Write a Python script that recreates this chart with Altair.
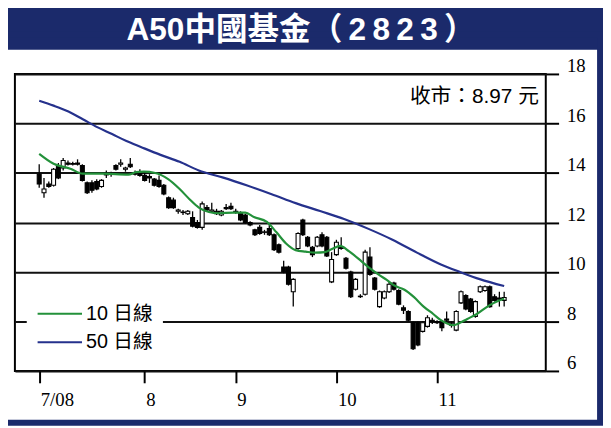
import altair as alt
import pandas as pd

# ---------------- data ----------------
days = list(range(98))  # trading-day index, 7/2008 .. 11/2008
opens = [13.95, 13.20, 13.55, 13.50, 14.30, 14.20, 14.40, 14.35, 14.40, 14.30,
         13.60, 13.60, 13.65, 13.45, 13.95, 13.95, 14.30, 14.35, 14.15, 14.35,
         14.00, 14.05, 13.90, 13.85, 13.75, 13.70, 13.50, 13.00, 12.90, 12.45,
         12.40, 12.35, 12.20, 12.00, 11.80, 12.60, 12.45, 12.45, 12.30, 12.55,
         12.65, 12.45, 12.40, 12.30, 12.00, 11.70, 11.80, 11.60, 11.75, 11.50,
         11.10, 10.20, 10.20, 9.20, 10.95, 12.10, 11.40, 11.00, 11.05, 11.50,
         11.40, 9.60, 10.70, 11.00, 10.55, 10.00, 9.30, 9.00, 9.10, 10.60,
         9.75, 8.60, 8.95, 9.20, 9.55, 9.25, 8.55, 8.40, 7.95, 7.95,
         7.60, 7.80, 8.05, 8.00, 7.95, 8.10, 7.90, 7.65, 8.75, 9.05,
         8.90, 8.20, 9.20, 9.25, 9.40, 9.00, 8.95, 8.85]
highs = [14.35, 13.80, 13.65, 14.20, 14.40, 14.60, 14.50, 14.45, 14.55, 14.35,
         13.65, 13.70, 13.75, 13.75, 14.10, 14.05, 14.35, 14.55, 14.25, 14.60,
         14.10, 14.15, 14.00, 13.95, 13.80, 13.90, 13.55, 13.05, 13.00, 12.55,
         12.50, 12.50, 12.45, 12.10, 12.85, 12.70, 12.80, 12.55, 12.50, 12.75,
         12.80, 12.55, 12.45, 12.35, 12.05, 11.75, 11.90, 11.70, 11.95, 11.55,
         11.15, 10.45, 10.25, 9.75, 11.60, 12.15, 11.45, 11.05, 11.45, 11.60,
         11.45, 10.80, 11.30, 11.40, 10.60, 10.05, 9.75, 9.10, 10.90, 11.00,
         9.80, 9.25, 9.25, 9.60, 9.60, 9.30, 8.65, 8.45, 8.00, 8.00,
         8.00, 8.25, 8.15, 8.05, 8.00, 8.40, 8.00, 8.45, 9.25, 9.10,
         8.95, 8.85, 9.45, 9.45, 9.45, 9.10, 9.20, 9.20]
lows = [13.40, 13.00, 13.40, 13.45, 13.75, 14.10, 14.30, 14.30, 14.30, 13.65,
        13.15, 13.20, 13.30, 13.40, 13.80, 13.85, 14.10, 14.25, 14.05, 14.20,
        13.90, 13.85, 13.65, 13.60, 13.45, 13.40, 13.10, 12.55, 12.55, 12.35,
        12.30, 12.30, 11.80, 11.75, 11.70, 12.45, 12.40, 12.30, 12.25, 12.50,
        12.50, 12.35, 12.05, 11.95, 11.85, 11.45, 11.50, 11.50, 11.45, 10.85,
        10.75, 9.95, 9.45, 8.60, 10.90, 11.45, 11.00, 10.60, 11.00, 11.00,
        10.60, 9.55, 10.65, 10.90, 10.10, 8.95, 9.25, 8.95, 9.05, 9.85,
        9.25, 8.55, 8.90, 9.15, 9.25, 8.65, 8.30, 8.00, 6.85, 7.00,
        7.55, 7.75, 7.90, 7.90, 7.60, 8.00, 7.75, 7.60, 8.70, 8.45,
        8.35, 8.15, 9.15, 9.20, 8.55, 8.80, 8.60, 8.60]
closes = [13.55, 13.35, 13.45, 14.15, 13.80, 14.50, 14.35, 14.38, 14.35, 13.70,
          13.20, 13.30, 13.35, 13.70, 13.92, 13.98, 14.15, 14.40, 14.20, 14.25,
          13.95, 13.90, 13.70, 13.80, 13.50, 13.45, 13.15, 12.60, 12.60, 12.50,
          12.42, 12.45, 11.85, 11.80, 12.75, 12.50, 12.50, 12.35, 12.45, 12.60,
          12.55, 12.40, 12.10, 12.00, 11.90, 11.50, 11.55, 11.62, 11.50, 10.90,
          10.80, 10.00, 9.50, 9.70, 11.55, 11.50, 11.05, 10.70, 11.40, 11.05,
          10.65, 10.50, 11.20, 10.95, 10.15, 9.00, 9.70, 9.02, 10.80, 9.90,
          9.30, 9.20, 9.20, 9.50, 9.30, 8.70, 8.45, 8.05, 6.90, 7.05,
          7.95, 8.15, 8.00, 7.95, 7.75, 8.05, 7.85, 8.40, 9.20, 8.50,
          8.40, 8.80, 9.40, 9.40, 8.60, 8.85, 8.90, 8.97]

ma10_days = [0, 3.0, 6.5, 9.1, 13.1, 18.6, 20.2, 21.8, 24.2, 26.9, 29.3, 31.3,
             33.3, 35.4, 37.4, 40.4, 43.0, 44.8, 47.5, 49.5, 51.5, 53.5, 55.6,
             57.6, 59.6, 61.2, 62.8, 64.6, 67.3, 69.3, 70.9, 72.5, 74.1, 76.2,
             78.2, 80.2, 82.2, 83.8, 86.3, 87.5, 89.3, 91.3, 93.9, 95.6, 97.0]
ma10_vals = [14.77, 14.37, 14.17, 13.97, 13.97, 13.93, 14.03, 14.05, 14.00,
             13.75, 13.35, 12.95, 12.60, 12.42, 12.37, 12.40, 12.40, 12.22,
             12.02, 11.60, 11.15, 10.88, 10.82, 10.78, 10.80, 10.94, 11.05,
             10.84, 10.42, 10.10, 9.88, 9.68, 9.45, 9.28, 8.98, 8.60, 8.30,
             8.05, 7.85, 7.92, 8.10, 8.30, 8.65, 8.82, 8.92]
ma50_days = [0, 3.0, 6.1, 9.1, 12.1, 15.2, 18.2, 21.2, 25.3, 29.3, 33.3, 38.4,
             43.4, 48.5, 53.5, 58.6, 63.6, 68.7, 73.7, 78.8, 83.8, 87.9, 91.9, 97.0]
ma50_vals = [16.92, 16.72, 16.48, 16.17, 15.85, 15.57, 15.29, 15.05, 14.73,
             14.45, 14.10, 13.81, 13.49, 13.14, 12.78, 12.46, 12.14, 11.74,
             11.30, 10.78, 10.30, 9.99, 9.71, 9.43]

tick_days = [0, 22, 41, 62, 83]
tick_labels = ["7/08", "8", "9", "10", "11"]
y_ticks = [6, 8, 10, 12, 14, 16, 18]

title_text = "A50中國基金（\u20092\u20098\u20092\u20093\u2009）"
close_note = "收市：8.97 元"
series_names = ["10 日線", "50 日線"]
series_colors = ["#23913a", "#25318c"]
NAVY = "#1b2a6b"
SERIF = "Times New Roman, Liberation Serif, serif"
SANS = "Arial, Liberation Sans, Noto Sans CJK TC"
TITLE_FONT = "Liberation Sans, Noto Sans CJK TC"

# ---------------- tables ----------------
candles = pd.DataFrame({"day": days, "open": opens, "high": highs,
                        "low": lows, "close": closes})
ma = pd.DataFrame({
    "day": ma10_days + ma50_days,
    "price": ma10_vals + ma50_vals,
    "series": [series_names[0]] * len(ma10_days) + [series_names[1]] * len(ma50_days),
})

label_expr = " : ".join(f"datum.value == {d} ? '{l}'" for d, l in zip(tick_days, tick_labels)) + " : ''"

xs = alt.Scale(domain=[-4.04, 104.65], nice=False, zero=False)
ys = alt.Scale(domain=[6, 18], nice=False, zero=False)

xax = alt.Axis(values=tick_days, labelExpr=label_expr, title=None, tickSize=12,
               tickWidth=2, tickColor="black", domain=False, grid=False,
               labelAlign="left", labelBaseline="top", labelPadding=8,
               labelOffset=1, labelFlush=False, labelFont=SERIF,
               labelFontSize=19, labelColor="black")
yax = alt.Axis(orient="right", values=y_ticks, title=None, tickSize=13,
               tickWidth=2, tickColor="black", domain=False, grid=True,
               gridColor="#111111", gridWidth=2, labelBaseline="alphabetic",
               labelOffset=-2, labelPadding=8, labelFlush=False,
               labelFont=SERIF, labelFontSize=19,
               labelColor="black", labelAlign="left")

X = alt.X("day:Q", scale=xs, axis=xax)

one = alt.Data(values=[{}])

banner = alt.Chart(one).mark_rect(color=NAVY).encode(
    x=alt.value(-20), x2=alt.value(600), y=alt.value(-80), y2=alt.value(-24.5))
frame = alt.Chart(one).mark_rect(fillOpacity=0, stroke=NAVY, strokeWidth=6).encode(
    x=alt.value(-13.5), x2=alt.value(593), y=alt.value(-40), y2=alt.value(353.5))
title = alt.Chart(one).mark_text(
    text=title_text, font=TITLE_FONT, fontSize=32, fontWeight="bold",
    color="white", align="center", baseline="middle").encode(
    x=alt.value(290), y=alt.value(-44))
note = alt.Chart(one).mark_text(
    text=close_note, font=SANS, fontSize=21,
    color="black", align="right", baseline="middle").encode(
    x=alt.value(531), y=alt.value(23))

wick = alt.Chart(candles).mark_rule(color="black", strokeWidth=1.3).encode(
    x=X, y=alt.Y("low:Q", scale=ys, axis=yax), y2="high:Q")
body = alt.Chart(candles).mark_bar(size=4, stroke="black", strokeWidth=1.1).encode(
    x=X, y=alt.Y("open:Q", scale=ys, axis=yax), y2="close:Q",
    fill=alt.condition("datum.close >= datum.open", alt.value("white"), alt.value("black")))

leg = alt.Legend(orient="none", legendX=12, legendY=224, title=None,
                 symbolType="stroke", symbolSize=2025, symbolStrokeWidth=2,
                 clipHeight=18, rowPadding=9, labelFont=SANS,
                 labelFontSize=20, labelOffset=3, padding=10, fillColor="white",
                 labelColor="black")
lines = alt.Chart(ma).mark_line(strokeWidth=2.2, interpolate="monotone").encode(
    x=X, y=alt.Y("price:Q", scale=ys, axis=yax),
    color=alt.Color("series:N", scale=alt.Scale(domain=series_names, range=series_colors),
                    legend=leg))

chart = alt.layer(banner, frame, wick, body, lines, title, note).properties(
    width=538, height=301,
    padding={"left": 7, "top": 64, "right": 58, "bottom": 55},
    autosize=alt.AutoSizeParams(type="none"),
    background="white",
).configure_view(stroke="black", strokeWidth=2)

chart.save("out.html", embed_options={"renderer": "svg", "actions": False})
